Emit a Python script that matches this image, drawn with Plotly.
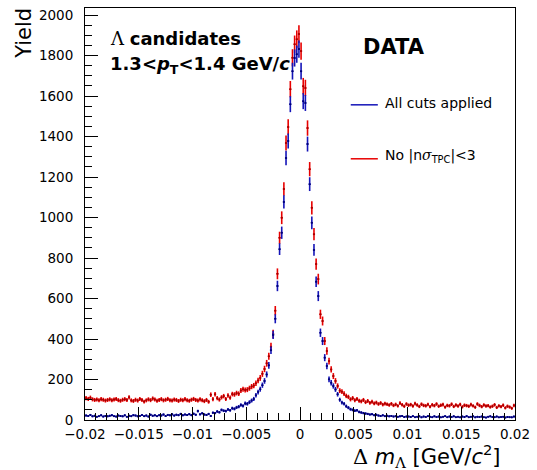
import numpy as np
import plotly.graph_objects as go

# Δm_Λ histogram: 200 bins between -0.02 and 0.02 GeV/c^2
x_min, x_max, n_bins = -0.02, 0.02, 200

# Yield per bin, selection without the TPC PID cut
no_tpc_cut = [
    108, 104, 110, 102, 99, 101, 97, 103, 100, 96,
    99, 102, 97, 101, 104, 98, 95, 100, 103, 99,
    112, 97, 94, 100, 96, 104, 99, 91, 97, 102,
    98, 106, 101, 95, 99, 103, 97, 100, 104, 98,
    96, 101, 99, 94, 100, 97, 103, 98, 95, 100,
    104, 99, 96, 102, 97, 93, 99, 90, 125, 103,
    127, 108, 101, 112, 118, 104, 121, 110, 128, 126,
    133, 130, 146, 152, 148, 150, 157, 165, 170, 182,
    195, 208, 228, 252, 280, 315, 362, 425, 540, 722,
    900, 999, 1141, 1368, 1447, 1634, 1789, 1856, 1881, 1906,
    1822, 1649, 1640, 1442, 1239, 1048, 918, 770, 696, 522,
    489, 390, 341, 291, 250, 217, 193, 168, 145, 140,
    130, 119, 114, 102, 108, 98, 104, 95, 92, 99,
    88, 94, 85, 90, 82, 86, 79, 84, 76, 81,
    78, 74, 80, 72, 77, 70, 83, 75, 68, 79,
    73, 76, 69, 81, 74, 67, 78, 72, 70, 77,
    66, 75, 71, 79, 68, 73, 76, 64, 72, 70,
    78, 67, 74, 69, 77, 65, 73, 71, 68, 76,
    70, 63, 79, 72, 66, 74, 69, 71, 64, 68,
    75, 62, 70, 66, 73, 60, 68, 64, 58, 72,
]

# Yield per bin, full selection
all_cuts = [
    22, 20, 25, 18, 21, 16, 19, 23, 17, 20,
    18, 21, 24, 19, 17, 22, 20, 18, 23, 16,
    21, 19, 24, 22, 18, 20, 25, 19, 22, 17,
    26, 21, 23, 19, 24, 22, 27, 20, 25, 23,
    28, 22, 26, 24, 30, 23, 27, 25, 29, 24,
    31, 26, 44, 28, 33, 27, 25, 30, 20, 36,
    34, 42, 38, 50, 46, 44, 52, 48, 58, 55,
    62, 66, 74, 70, 82, 80, 88, 96, 104, 122,
    138, 152, 172, 193, 225, 270, 345, 420, 500, 662,
    844, 925, 1077, 1294, 1378, 1560, 1723, 1788, 1807, 1832,
    1723, 1575, 1566, 1363, 1165, 974, 840, 683, 612, 431,
    390, 308, 267, 201, 184, 168, 151, 127, 100, 86,
    80, 68, 61, 53, 50, 46, 48, 40, 37, 34,
    32, 30, 27, 29, 24, 26, 22, 20, 23, 19,
    21, 18, 20, 17, 19, 16, 18, 20, 15, 17,
    17, 15, 19, 14, 16, 18, 13, 17, 15, 19,
    16, 14, 18, 15, 17, 13, 16, 19, 14, 17,
    15, 18, 14, 16, 13, 17, 15, 19, 14, 16,
    18, 13, 16, 15, 17, 14, 12, 16, 18, 15,
    14, 17, 13, 15, 16, 12, 15, 14, 13, 17,
]

x_ticks = [-0.02, -0.015, -0.01, -0.005, 0, 0.005, 0.01, 0.015, 0.02]
x_tick_text = ["\u22120.02", "\u22120.015", "\u22120.01", "\u22120.005", "0",
               "0.005", "0.01", "0.015", "0.02"]

edges = np.linspace(x_min, x_max, n_bins + 1)
centers = 0.5 * (edges[:-1] + edges[1:])
half_width = 0.5 * (edges[1] - edges[0])

RED = "#e80000"
BLUE = "#1414b8"
FONT = "DejaVu Sans"

fig = go.Figure()


def add_hist(counts, color, marker_color):
    counts = np.asarray(counts, dtype=float)
    fig.add_trace(go.Scatter(
        x=centers, y=counts, mode="markers",
        marker=dict(size=2, color=marker_color),
        error_y=dict(type="data", array=np.sqrt(counts), width=0,
                     thickness=1.6, color=color),
        error_x=dict(type="constant", value=half_width, width=0,
                     thickness=1.6, color=color),
        showlegend=False, hoverinfo="skip",
    ))


add_hist(no_tpc_cut, RED, "#a00000")
add_hist(all_cuts, BLUE, "#00006e")

axis_common = dict(
    showline=True, linecolor="black", linewidth=1, mirror=True,
    ticks="inside", ticklen=13, tickcolor="black", tickwidth=1,
    showgrid=False, zeroline=False,
    tickfont=dict(family=FONT, size=13.5, color="black"),
)

fig.update_xaxes(
    range=[x_min, x_max], tickvals=x_ticks, ticktext=x_tick_text,
    minor=dict(ticks="inside", ticklen=7, dtick=0.001, tickcolor="black",
               showgrid=False),
    ticklabelstandoff=2,
    **axis_common,
)
fig.update_yaxes(
    range=[0, 2035], dtick=200, tick0=0,
    minor=dict(ticks="inside", ticklen=7, dtick=50, tickcolor="black",
               showgrid=False),
    ticklabelstandoff=8,
    **axis_common,
)

SYM = "font-family:'DejaVu Serif'"

annotations = [
    dict(x=0.053, y=0.927, xanchor="left", yanchor="middle",
         text=f"<span style=\"{SYM}\">\u039b</span> <b>candidates</b>",
         font=dict(family=FONT, size=18, color="black")),
    dict(x=0.053, y=0.862, xanchor="left", yanchor="middle",
         text="<b>1.3&lt;<i>p</i><sub>T</sub>&lt;1.4 GeV/<i>c</i></b>",
         font=dict(family=FONT, size=18, color="black")),
    dict(x=0.641, y=0.906, xanchor="left", yanchor="middle",
         text="<b>DATA</b>",
         font=dict(family=FONT, size=21, color="black")),
    dict(x=0.694, y=0.770, xanchor="left", yanchor="middle",
         text="All cuts applied",
         font=dict(family=FONT, size=14, color="black")),
    dict(x=0.694, y=0.640, xanchor="left", yanchor="middle",
         text=f"No |n<i style=\"{SYM}\">\u03c3</i><sub>TPC</sub>|&lt;3",
         font=dict(family=FONT, size=14, color="black")),
    dict(x=-0.141, y=1.005, xanchor="center", yanchor="top", textangle=-90,
         text="Yield",
         font=dict(family=FONT, size=21, color="black")),
    dict(x=0.972, y=-0.087, xanchor="right", yanchor="middle",
         text=f"<span style=\"{SYM}\">\u0394</span> <i>m</i><sub><span style=\"{SYM}\">\u039b</span></sub> [GeV/<i>c</i><sup>2</sup>]",
         font=dict(family=FONT, size=21, color="black")),
]
for a in annotations:
    a.update(xref="paper", yref="paper", showarrow=False)

shapes = [
    dict(type="line", xref="paper", yref="paper", x0=0.618, x1=0.681,
         y0=0.765, y1=0.765, line=dict(color=BLUE, width=1.5)),
    dict(type="line", xref="paper", yref="paper", x0=0.618, x1=0.681,
         y0=0.634, y1=0.634, line=dict(color=RED, width=1.5)),
]

fig.update_layout(
    width=537, height=470,
    margin=dict(l=85, r=20, t=7, b=50, pad=0),
    paper_bgcolor="white", plot_bgcolor="white",
    annotations=annotations, shapes=shapes,
    font=dict(family=FONT, color="black"),
)

fig.write_html("out.html")
